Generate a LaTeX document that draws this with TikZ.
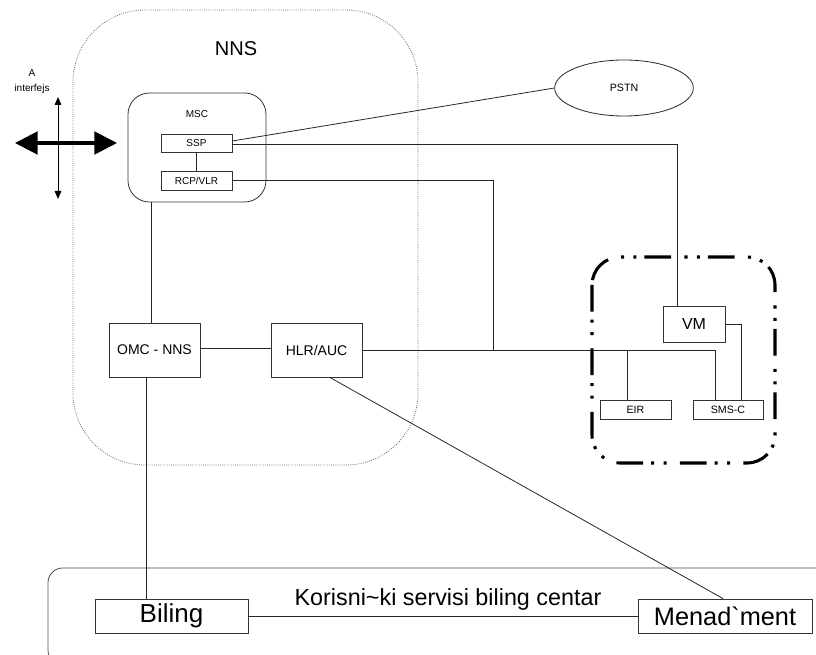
\documentclass[tikz,border=0pt]{standalone}
\usepackage{fontspec}
\setmainfont{Liberation Sans}
\usetikzlibrary{arrows.meta,shapes.geometric}
\tikzset{
  box/.style={draw=black!80, line width=0.6pt, inner sep=0pt, align=center},
  conn/.style={draw=black!85, line width=0.6pt},
  fs/.style={font=\fontsize{#1}{#1}\selectfont}
}
\begin{document}
\begin{tikzpicture}[x=0.75pt,y=-0.75pt]
\useasboundingbox (0,0) rectangle (816,655);
\clip (0,0) rectangle (816,655);
% NNS region
\draw[black!60, densely dotted, line width=0.6pt, rounded corners=54pt] (73,10) rectangle (418,465);
\node[fs=15] (nnslbl) at (236,49) {NNS};
% A interface
\node[fs=7.5] (alab) at (32,73) {A};
\node[fs=7.5] (ilab) at (32,89) {interfejs};
\coordinate (v1) at (58,97);
\coordinate (v2) at (58,199);
\coordinate (h1) at (15,143);
\coordinate (h2) at (117,143);
\draw[line width=0.6pt, {Triangle[length=6pt,width=5pt]}-{Triangle[length=6pt,width=5pt]}] (v1) -- (v2);
\draw[line width=2.3pt, {Triangle[length=17pt,width=17pt]}-{Triangle[length=17pt,width=17pt]}] (h1) -- (h2);
% MSC
\node[box, rounded corners=16pt, minimum width=103.5pt, minimum height=81.75pt] (msc) at (197,147.5) {};
\node[fs=7.5] (msclbl) at (197,114) {MSC};
\node[box, minimum width=53.25pt, minimum height=13.5pt, fs=7.5] (ssp) at (196.5,143) {SSP};
\node[box, minimum width=53.25pt, minimum height=14.25pt, fs=7.5] (rcp) at (196.5,180.5) {RCP/VLR};
% PSTN
\node[draw=black!85, line width=0.6pt, ellipse, minimum width=104pt, minimum height=42pt, inner sep=0pt, fs=8] (pstn) at (624,88) {PSTN};
% OMC, HLR
\node[box, minimum width=68.25pt, minimum height=40.5pt, fs=10.5] (omc) at (154.5,350) {OMC - NNS};
\node[box, minimum width=68.25pt, minimum height=40.5pt, fs=10.5] (hlr) at (316.5,350) {HLR/AUC};
% right group
\draw[line width=2.3pt, dash pattern=on 20pt off 6pt on 2.3pt off 7pt on 2.3pt off 10pt, rounded corners=21pt] (592,257) rectangle (775,463);
\node[box, minimum width=46.5pt, minimum height=27pt, fs=12] (vm) at (694,324) {VM};
\node[box, minimum width=53.25pt, minimum height=14.25pt, fs=8] (eir) at (635.5,409.5) {EIR};
\node[box, minimum width=52.5pt, minimum height=14.25pt, fs=8] (smsc) at (728,409.5) {SMS-C};
% bottom centre
\draw[black!70, line width=0.6pt, rounded corners=11pt] (48,568) rectangle (860,665);
\node[box, minimum width=114.75pt, minimum height=25.5pt, fs=19.5] (bil) at (171.5,616) {Biling};
\node[box, minimum width=130.5pt, minimum height=25.5pt, fs=19] (men) at (725,616) {Menad\textasciigrave ment};
\node[fs=17.5, anchor=base] (kor) at (448,605) {Korisni\textasciitilde ki servisi biling centar};
% coordinates
\coordinate (x151) at (151,0);
\coordinate (x146) at (146,0);
\coordinate (x677) at (677,0);
\coordinate (x715) at (715,0);
\coordinate (x741) at (741,0);
\coordinate (j) at (493,350);
\coordinate (e1) at (627,350);
% connectors
\draw[conn] (ssp) -- (rcp);
\draw[conn] ([yshift=1.5pt]ssp.east) -- (pstn.west);
\draw[conn] ([yshift=-1pt]ssp.east) -| (vm.north -| x677);
\draw[conn] (rcp.east) -| (j);
\draw[conn] (hlr.east) -| (smsc.north -| x715);
\draw[conn] (e1) -- (eir.north -| e1);
\draw[conn] (vm.east) -| (smsc.north -| x741);
\draw[conn] (msc.south -| x151) -- (omc.north -| x151);
\draw[conn] ([yshift=1pt]omc.east) -- ([yshift=1pt]hlr.west);
\draw[conn] (omc.south -| x146) -- (bil.north -| x146);
\draw[conn] ([xshift=10pt]hlr.south) -- ([xshift=-1.5pt]men.north);
\draw[conn] (bil) -- (men);
\end{tikzpicture}
\end{document}
